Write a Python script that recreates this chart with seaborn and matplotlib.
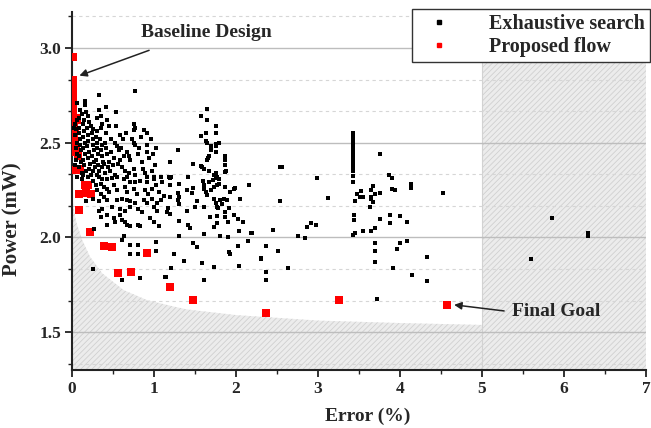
import matplotlib
matplotlib.use("Agg")
import matplotlib.pyplot as plt
import seaborn as sns
import pandas as pd
from matplotlib.ticker import MultipleLocator
from matplotlib.lines import Line2D

# ---------------- data ----------------
exh_error = [
    # dense cloud near origin
    0.33, 0.77, 0.06, 0.16, 0.16, 0.41, 0.10, 0.12, 0.33, 0.35,
    0.54, 0.17, 0.19, 0.15, 0.21, 0.23, 0.25, 0.30, 0.37, 0.35,
    0.31, 0.43, 0.45, 0.54, 0.75, 0.77, 0.75, 0.66, 0.88, 0.91,
    0.84, 0.73, 0.75, 0.77, 0.91, 0.96, 0.55, 0.57, 0.67, 0.69,
    0.71, 0.92, 0.94, 1.03, 1.01, 0.47, 0.51, 0.45, 0.39, 0.59,
    0.61, 0.65, 0.69, 0.87, 0.89, 0.92, 0.75, 0.77, 1.00, 1.08,
    0.04, 0.05, 0.04, 0.06, 0.05, 0.06, 0.05, 0.04, 0.06, 0.03,
    0.08, 0.09, 0.085, 0.10, 0.095, 0.11, 0.08, 0.105, 0.09, 0.12,
    0.13, 0.145, 0.13, 0.155, 0.14, 0.16, 0.135, 0.15, 0.17, 0.14,
    0.18, 0.195, 0.20, 0.185, 0.21, 0.19, 0.22, 0.205, 0.23,
    0.24, 0.26, 0.25, 0.27, 0.245, 0.265, 0.28, 0.255,
    0.29, 0.31, 0.30, 0.32, 0.295, 0.315, 0.33, 0.305,
    0.34, 0.36, 0.355, 0.37, 0.38, 0.365, 0.40,
    0.41, 0.40, 0.42, 0.43, 0.44, 0.46, 0.48, 0.50, 0.52, 0.53,
    0.56, 0.58, 0.60, 0.62, 0.63, 0.82, 0.85, 0.80, 0.97, 0.99,
    # 0 - 1.2, lower band
    0.065, 0.125, 0.19, 0.25, 0.33, 0.37, 0.43, 0.49, 0.55, 0.63,
    0.67, 0.71, 0.77, 0.83, 0.92, 1.00, 1.10,
    0.29, 0.35, 0.39, 0.43, 0.45, 0.31, 0.35, 0.51, 0.55, 0.65,
    0.67, 0.75, 0.79, 0.89, 0.93, 0.98, 1.02, 1.06, 1.12,
    0.17, 0.25, 0.33, 0.39, 0.43, 0.55, 0.61, 0.67, 0.71, 0.77,
    0.875, 0.915, 0.98, 1.04, 1.08, 0.33, 0.37, 0.49, 0.59, 0.65,
    0.71, 0.81, 0.85, 1.00, 1.04, 1.16,
    0.35, 0.43, 0.51, 0.59, 0.61, 0.65, 0.67, 0.71, 0.81, 0.83,
    0.955, 1.00, 1.06, 0.27, 0.43, 0.53, 0.63,
    0.61, 0.71, 0.81, 0.71, 0.81, 1.02, 1.02, 0.25, 0.61, 0.83, 1.14,
    # 1.1 - 2.3
    1.65, 1.57, 1.65, 1.76, 1.76, 1.63, 1.57, 1.64, 1.65, 1.75,
    1.79, 1.75, 1.69, 1.69, 1.76, 1.67, 1.66, 1.65, 1.87, 1.86,
    1.87, 1.88, 1.87, 1.29, 1.20, 1.48, 1.59, 1.61, 1.57, 1.67,
    1.73, 1.77, 1.75, 1.18, 1.21, 1.42,
    1.20, 1.30, 1.42, 1.60, 1.61, 1.67, 1.72, 1.75, 1.79, 1.79, 1.20,
    1.29, 1.30, 1.29, 1.31, 1.40, 1.48, 1.46, 1.52, 1.50,
    1.61, 1.63, 1.65, 1.69, 1.73, 1.77, 1.73, 1.75, 1.77, 1.78,
    1.81, 1.85, 1.89, 1.83, 1.87, 1.93, 1.97, 1.99, 2.05, 2.16,
    1.20, 1.17, 1.19, 1.40, 1.61, 1.68, 1.77, 1.30, 1.42, 1.44,
    1.86, 1.87, 1.90, 1.92, 1.97, 2.02, 2.08, 1.73, 1.77,
    1.31, 1.61, 1.81, 1.90, 2.04, 2.18, 2.20,
    1.48, 1.53, 1.92, 1.93, 2.02, 2.15, 2.31,
    1.24, 1.37, 1.59, 1.73, 2.04, 1.21, 1.15, 1.61,
    # 2.3 - 4.6
    3.43, 3.43, 3.43, 3.43, 3.43, 3.43, 3.43, 3.43, 3.43, 3.43,
    3.43, 3.43, 3.43,
    3.76, 2.54, 2.56, 2.99, 3.86, 3.90, 4.14, 4.14, 3.90, 3.94,
    3.47, 3.51, 3.53, 3.55, 3.65, 3.67, 3.65, 3.69, 3.75, 3.65,
    3.67, 3.63, 3.45, 2.54, 3.12, 3.44, 3.44,
    3.75, 3.88, 3.88, 4.00, 4.08, 2.45, 2.86, 2.91, 2.98,
    2.75, 2.84, 3.43, 3.45, 3.55, 3.65, 3.70,
    2.36, 2.51, 2.30, 2.37, 2.37, 2.63,
    3.69, 3.69, 3.69, 4.00, 3.96, 4.09, 3.92, 4.15, 3.72,
    4.33, 4.33, 4.52,
    # beyond the 5 % limit
    5.85, 5.60, 6.29, 6.29, 6.29,
]
exh_power = [
    2.75, 2.775, 2.71, 2.72, 2.70, 2.69, 2.67, 2.65, 2.67, 2.64,
    2.66, 2.66, 2.64, 2.62, 2.61, 2.59, 2.57, 2.63, 2.60, 2.58,
    2.56, 2.62, 2.59, 2.59, 2.60, 2.58, 2.565, 2.55, 2.565, 2.55,
    2.53, 2.52, 2.50, 2.49, 2.49, 2.52, 2.48, 2.46, 2.45, 2.43,
    2.41, 2.45, 2.42, 2.47, 2.38, 2.45, 2.42, 2.40, 2.39, 2.41,
    2.37, 2.35, 2.34, 2.36, 2.34, 2.32, 2.36, 2.33, 2.32, 2.32,
    2.60, 2.57, 2.54, 2.50, 2.47, 2.44, 2.41, 2.38, 2.62, 2.58,
    2.63, 2.58, 2.55, 2.52, 2.49, 2.46, 2.43, 2.40, 2.37, 2.34,
    2.60, 2.56, 2.53, 2.50, 2.47, 2.44, 2.41, 2.38, 2.35, 2.33,
    2.58, 2.54, 2.51, 2.48, 2.45, 2.42, 2.39, 2.36, 2.33,
    2.55, 2.52, 2.49, 2.46, 2.43, 2.40, 2.37, 2.35,
    2.53, 2.50, 2.47, 2.44, 2.41, 2.38, 2.35, 2.33,
    2.52, 2.49, 2.46, 2.43, 2.40, 2.37, 2.34,
    2.55, 2.50, 2.47, 2.44, 2.37, 2.35, 2.52, 2.38, 2.50, 2.33,
    2.39, 2.54, 2.47, 2.52, 2.43, 2.47, 2.40, 2.44, 2.35, 2.44,
    2.32, 2.31, 2.32, 2.30, 2.32, 2.307, 2.31, 2.314, 2.32, 2.31,
    2.32, 2.29, 2.29, 2.30, 2.29, 2.31, 2.29,
    2.275, 2.284, 2.267, 2.258, 2.24, 2.25, 2.23, 2.275, 2.25, 2.267,
    2.24, 2.258, 2.23, 2.25, 2.23, 2.258, 2.275, 2.24, 2.22,
    2.19, 2.205, 2.19, 2.214, 2.196, 2.196, 2.205, 2.196, 2.19, 2.18,
    2.196, 2.18, 2.205, 2.18, 2.196, 2.14, 2.15, 2.16, 2.15, 2.14,
    2.16, 2.15, 2.135, 2.16, 2.14, 2.135,
    2.11, 2.12, 2.10, 2.12, 2.09, 2.08, 2.065, 2.06, 2.065, 2.06,
    2.10, 2.08, 2.06, 2.047, 2.065, 2.08, 2.01,
    1.986, 1.96, 1.96, 1.912, 1.912, 1.977, 1.93, 1.833, 1.775, 1.788, 1.793,
    2.68, 2.64, 2.62, 2.59, 2.55, 2.55, 2.535, 2.51, 2.50, 2.495,
    2.50, 2.48, 2.48, 2.46, 2.45, 2.43, 2.42, 2.41, 2.43, 2.41,
    2.38, 2.35, 2.345, 2.46, 2.40, 2.39, 2.37, 2.36, 2.375, 2.35,
    2.33, 2.32, 2.34, 2.32, 2.32, 2.32,
    2.314, 2.284, 2.32, 2.296, 2.279, 2.293, 2.302, 2.314, 2.307, 2.284, 2.279,
    2.232, 2.214, 2.196, 2.179, 2.25, 2.261, 2.232, 2.191, 2.161,
    2.258, 2.24, 2.223, 2.25, 2.267, 2.275, 2.205, 2.18, 2.161, 2.153,
    2.196, 2.202, 2.196, 2.174, 2.267, 2.24, 2.258, 2.261, 2.202, 2.279,
    2.214, 2.153, 2.126, 2.139, 2.16, 2.109, 2.114, 2.086, 2.068, 2.05,
    2.135, 2.109, 2.082, 2.153, 2.117, 2.096, 2.082, 2.056, 2.074,
    2.007, 2.016, 2.009, 2.002, 2.033, 2.024, 2.024,
    1.968, 1.951, 1.925, 1.91, 1.956, 1.98, 1.89,
    1.91, 1.875, 1.863, 1.846, 1.85, 1.84, 1.793, 1.774,
    2.553, 2.535, 2.515, 2.495, 2.475, 2.455, 2.435, 2.415, 2.395, 2.372,
    2.349, 2.325, 2.293,
    2.439, 2.372, 2.372, 2.311, 2.328, 2.316, 2.281, 2.263, 2.255, 2.25,
    2.228, 2.214, 2.246, 2.214, 2.25, 2.27, 2.214, 2.228, 2.237, 2.205,
    2.188, 2.16, 2.193, 2.193, 2.209, 2.118, 2.091,
    2.097, 2.118, 2.074, 2.114, 2.083, 2.039, 2.056, 2.074, 2.065,
    2.009, 1.995, 2.012, 2.021, 2.035, 2.033, 2.048,
    1.955, 1.928, 1.886, 1.816, 1.776, 1.837,
    1.972, 1.928, 1.872, 1.969, 1.937, 1.981, 1.837, 1.802, 1.676,
    1.898, 1.771, 2.233,
    2.10, 1.885, 2.025, 2.015, 2.005,
]

prop_error = [
    0.01, 0.01, 0.01, 0.01, 0.01, 0.01, 0.01, 0.01, 0.01, 0.01,
    0.01, 0.01, 0.01, 0.01, 0.02, 0.02, 0.01, 0.02, 0.02, 0.03,
    0.04, 0.05, 0.06, 0.04, 0.03, 0.05, 0.07,
    0.02, 0.06, 0.10, 0.08, 0.16, 0.19, 0.09, 0.17, 0.23, 0.09,
    0.22, 0.39, 0.49, 0.56, 0.72, 0.92, 1.20, 1.48, 2.36, 3.25, 4.57,
]
prop_power = [
    2.95, 2.83, 2.81, 2.79, 2.77, 2.75, 2.73, 2.71, 2.69, 2.67,
    2.65, 2.63, 2.61, 2.59, 2.58, 2.56, 2.53, 2.51, 2.49, 2.47,
    2.45, 2.63, 2.62, 2.56, 2.52, 2.47, 2.43,
    2.355, 2.355, 2.355, 2.36, 2.275, 2.275, 2.23, 2.235, 2.23, 2.145,
    2.03, 1.955, 1.95, 1.81, 1.82, 1.92, 1.74, 1.67, 1.60, 1.67, 1.645,
]

# lower boundary of the feasible (un-shaded) region
bound_error = [0.0, 0.016, 0.056, 0.125, 0.22, 0.37, 0.63, 0.91, 1.24, 1.40,
               2.0, 3.0, 4.0, 5.0]
bound_power = [2.30, 2.16, 2.075, 1.986, 1.898, 1.81, 1.722, 1.67, 1.635, 1.62,
               1.59, 1.561, 1.548, 1.538]

x_ticks = [0, 1, 2, 3, 4, 5, 6, 7]
y_ticks = [1.5, 2.0, 2.5, 3.0]
y_tick_labels = ["1.5", "2.0", "2.5", "3.0"]

# ---------------- figure ----------------
sns.set_theme(style="white")
plt.rcParams["font.family"] = ["Liberation Serif", "DejaVu Serif"]
plt.rcParams["font.weight"] = "bold"
plt.rcParams["hatch.linewidth"] = 0.6
plt.rcParams["hatch.color"] = "#cdcdcd"

fig = plt.figure(figsize=(6.51, 4.28), dpi=100)
L, R, T, B = 72 / 651, 646 / 651, 1 - 12 / 428, 1 - 370 / 428
ax = fig.add_axes([L, B, R - L, T - B])

YMIN, YMAX = 1.3, 3.19

# shaded infeasible regions
ax.fill_between(bound_error, YMIN, bound_power, facecolor="#ececec",
                hatch="//////", edgecolor="#d0d0d0", linewidth=0, zorder=0.2)
ax.axvspan(5, 7, facecolor="#ececec", hatch="//////", edgecolor="#d0d0d0",
           linewidth=0, zorder=0.2)
ax.axvline(5, color="#d2d2d2", lw=0.8, zorder=0.3)

df_exh = pd.DataFrame({"Error": exh_error, "Power": exh_power})
df_prop = pd.DataFrame({"Error": prop_error, "Power": prop_power})

sns.scatterplot(data=df_prop, x="Error", y="Power", ax=ax, marker="s", s=26,
                color="#ff0000", linewidth=0, zorder=3)
sns.scatterplot(data=df_exh, x="Error", y="Power", ax=ax, marker="s", s=5.5,
                color="black", linewidth=0, zorder=4)

ax.set_xlim(0, 7)
ax.set_ylim(YMIN, YMAX)
ax.set_xticks(x_ticks)
ax.set_xticklabels([str(t) for t in x_ticks])
ax.set_yticks(y_ticks)
ax.set_yticklabels(y_tick_labels)
ax.xaxis.set_minor_locator(MultipleLocator(0.5))
ax.yaxis.set_minor_locator(MultipleLocator(0.5 / 3))

ax.set_axisbelow(True)
ax.yaxis.grid(True, which="major", color="#bdbdbd", lw=1.0, zorder=0.5)
ax.yaxis.grid(True, which="minor", color="#d6d6d6", lw=0.8,
              linestyle=(0, (3, 3)), zorder=0.5)
ax.xaxis.grid(False)

for s in ["top", "right"]:
    ax.spines[s].set_visible(False)
for s in ["left", "bottom"]:
    ax.spines[s].set_color("#222222")
    ax.spines[s].set_linewidth(1.5)

ax.tick_params(axis="both", which="major", direction="out", length=5,
               width=1.3, color="#222222", labelsize=12.5, pad=3,
               left=True, bottom=True)
ax.tick_params(axis="both", which="minor", direction="out", length=3,
               width=1.0, color="#222222", left=True, bottom=True)
for lab in ax.get_xticklabels() + ax.get_yticklabels():
    lab.set_fontweight("bold")

ax.set_xlabel("Error (%)", fontsize=14, fontweight="bold")
ax.set_ylabel("Power (mW)", fontsize=15, fontweight="bold")
ax.xaxis.set_label_coords((368 - 72) / (646 - 72), -0.105)
ax.yaxis.set_label_coords(-0.087, 0.42)

# annotations
ax.annotate("Baseline Design", xy=(0.09, 2.854), xytext=(1.64, 3.08),
            fontsize=14, fontweight="bold", ha="center", va="center",
            arrowprops=dict(arrowstyle="-|>", color="#222222", lw=1.1,
                            mutation_scale=11, shrinkA=12, shrinkB=0,
                            relpos=(0.25, 0.0)))
ax.annotate("Final Goal", xy=(4.66, 1.644), xytext=(5.36, 1.607),
            fontsize=14, fontweight="bold", ha="left", va="center",
            arrowprops=dict(arrowstyle="-|>", color="#222222", lw=1.1,
                            mutation_scale=11, shrinkA=3, shrinkB=0,
                            relpos=(0.0, 0.5)))

handles = [
    Line2D([], [], marker="s", color="black", linestyle="none", markersize=3.5),
    Line2D([], [], marker="s", color="#ff0000", linestyle="none", markersize=3.5),
]
leg = ax.legend(handles, ["Exhaustive search", "Proposed flow"],
                loc="upper right", bbox_to_anchor=(650 / 651, 1 - 9 / 428),
                bbox_transform=fig.transFigure, frameon=True, fancybox=False,
                edgecolor="#333333", framealpha=1, fontsize=14.5,
                borderpad=0.25, handletextpad=1.4, labelspacing=0.15,
                borderaxespad=0, handlelength=2.2)
leg.get_frame().set_linewidth(1.0)
for t in leg.get_texts():
    t.set_fontweight("bold")

fig.savefig("out.png", dpi=100)
